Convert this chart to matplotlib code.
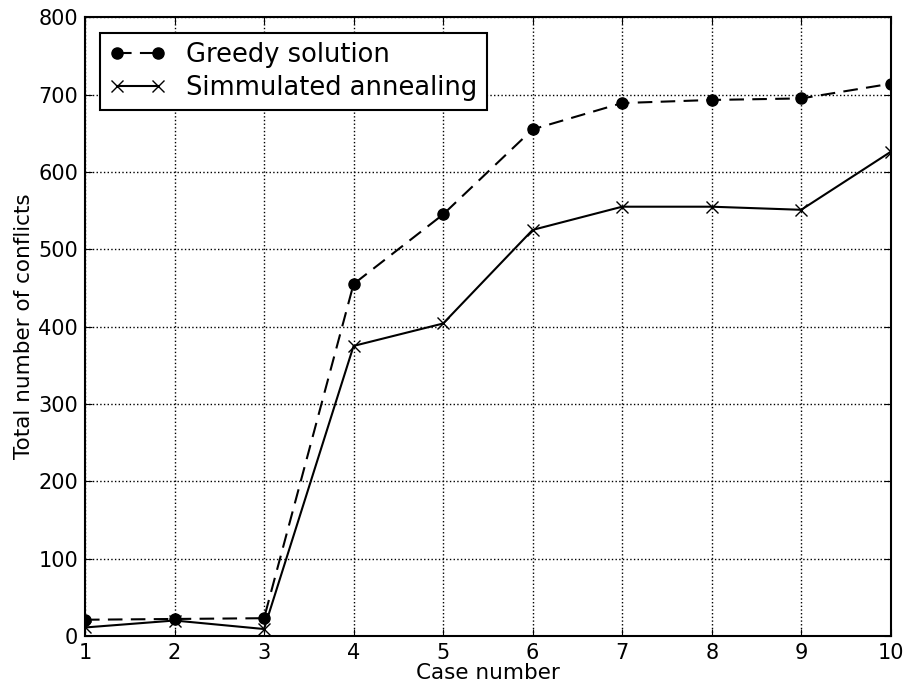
import matplotlib
matplotlib.use("Agg")
import matplotlib.pyplot as plt

cases = [1, 2, 3, 4, 5, 6, 7, 8, 9, 10]
greedy = [21, 22, 23, 455, 545, 655, 689, 693, 695, 714]
annealing = [11, 20, 9, 375, 404, 525, 555, 555, 551, 626]

plt.rcParams.update({
    "font.family": "DejaVu Sans",
    "xtick.direction": "in", "ytick.direction": "in",
    "xtick.top": True, "ytick.right": True,
    "xtick.major.size": 5, "ytick.major.size": 5,
    "xtick.major.pad": 5, "ytick.major.pad": 5,
})

fig = plt.figure(figsize=(9.08, 6.88), dpi=100)
ax = fig.add_axes([0.0936, 0.0756, 0.8874, 0.8994])

ax.plot(cases, greedy, "k--o", lw=1.5, ms=8, dashes=(7, 4), label="Greedy solution")
ax.plot(cases, annealing, "k-x", lw=1.5, ms=9, mew=1, label="Simmulated annealing")

ax.set_xlim(1, 10)
ax.set_ylim(0, 800)
ax.set_xticks(cases)
ax.set_yticks(range(0, 801, 100))
ax.tick_params(labelsize=15)
for s in ax.spines.values():
    s.set_linewidth(1.5)
ax.grid(True, color="black", linestyle=":", linewidth=1)
ax.set_xlabel("Case number", fontsize=15.5, labelpad=0)
ax.set_ylabel("Total number of conflicts", fontsize=15.5, labelpad=3)

leg = ax.legend(loc="upper left", fontsize=18.5, numpoints=2, fancybox=False,
                framealpha=1, edgecolor="black", handlelength=2.2,
                borderaxespad=0.6, borderpad=0.35, labelspacing=0.3)
leg.get_frame().set_linewidth(1.5)

fig.savefig("out.png", dpi=100)
